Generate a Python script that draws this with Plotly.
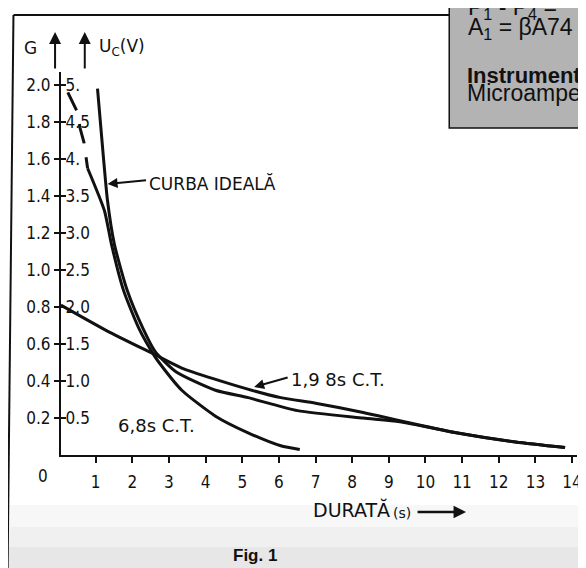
import plotly.graph_objects as go

# ---------------- data ----------------
x_tick_vals = [1, 2, 3, 4, 5, 6, 7, 8, 9, 10, 11, 12, 13, 14]
x_tick_text = ["1", "2", "3", "4", "5", "6", "7", "8", "9", "10", "11", "12", "13", "14"]

g_tick_vals = [0.2, 0.4, 0.6, 0.8, 1.0, 1.2, 1.4, 1.6, 1.8, 2.0]
g_tick_text = ["0.2", "0.4", "0.6", "0.8", "1.0", "1.2", "1.4", "1.6", "1.8", "2.0"]

uc_tick_vals = [0.5, 1.0, 1.5, 2.0, 2.5, 3.0, 3.5, 4.0, 4.5, 5.0]
uc_tick_text = ["0.5", "1.0", "1.5", "2.0", "2.5", "3.0", "3.5", "4.", "4.5", "5."]

# ideal curve (G vs duration, s)
ideal_x = [1.05, 1.22, 1.32, 1.51, 1.86, 2.30, 2.62, 3.19, 4.27, 5.16, 6.51, 8.30, 9.30, 10.84, 12.46, 13.81]
ideal_g = [1.98, 1.59, 1.38, 1.14, 0.89, 0.68, 0.56, 0.45, 0.35, 0.31, 0.24, 0.20, 0.18, 0.12, 0.07, 0.04]

# 6,8 s time constant curve (dashed start, then solid)
ct68_dash_x = [0.24, 0.51, 0.57, 0.68, 0.78]
ct68_dash_g = [1.96, 1.85, 1.77, 1.69, 1.55]
ct68_x = [0.78, 1.24, 1.43, 1.76, 2.19, 2.59, 2.73, 3.35, 4.27, 5.16, 6.05, 6.57]
ct68_g = [1.55, 1.32, 1.14, 0.89, 0.68, 0.54, 0.50, 0.35, 0.21, 0.12, 0.05, 0.03]

# 1,98 s time constant curve
ct198_x = [0.05, 1.32, 2.54, 3.35, 5.08, 6.05, 7.00, 8.30, 9.30, 10.84, 12.46, 13.81]
ct198_g = [0.81, 0.67, 0.55, 0.47, 0.36, 0.31, 0.28, 0.23, 0.185, 0.12, 0.07, 0.04]

# ---------------- layout geometry ----------------
OFF = 8                      # page body margin of the html page
W, H = 586 - OFF, 568 - OFF  # figure size
ML, MR, MT, MB = 53, 4, 64, 113
PW, PH = W - ML - MR, H - MT - MB
X0 = 0.054
XSCALE = 37.0
YSCALE = 185.0
x_range = [X0, X0 + PW / XSCALE]
g_range = [0, PH / YSCALE]


def px(p):  # reference-picture pixel -> paper x
    return (p - OFF - ML) / PW


def py(p):  # reference-picture pixel -> paper y
    return (H - MB - (p - OFF)) / PH


INK = "#111111"
LAB = "DejaVu Sans, sans-serif"
TICKF = "DejaVu Sans Condensed, DejaVu Sans, sans-serif"
BOX = "Liberation Sans, Arial, sans-serif"

fig = go.Figure()

line_style = dict(color=INK, width=3, shape="spline", smoothing=0.6)
fig.add_trace(go.Scatter(x=ideal_x, y=ideal_g, mode="lines", line=line_style,
                         name="Curba ideală", cliponaxis=False))
fig.add_trace(go.Scatter(x=ct68_x, y=ct68_g, mode="lines", line=line_style,
                         name="6,8s C.T.", cliponaxis=False))
fig.add_trace(go.Scatter(x=ct68_dash_x, y=ct68_dash_g, mode="lines",
                         line=dict(color=INK, width=3, dash="20px,14px"),
                         name="6,8s C.T. (start)", cliponaxis=False))
fig.add_trace(go.Scatter(x=ct198_x, y=ct198_g, mode="lines", line=line_style,
                         name="1,98s C.T.", cliponaxis=False))
# invisible trace for the Uc axis
fig.add_trace(go.Scatter(x=[None], y=[None], yaxis="y2", showlegend=False))

shapes = []
# bottom stippled gray band
for (y0, y1, c) in [(505, 527, "#f7f7f7"), (527, 547, "#f0f0f0"), (547, 575, "#e7e7e7")]:
    shapes.append(dict(type="rect", xref="paper", yref="paper", x0=px(-5), x1=px(600),
                       y0=py(y1), y1=py(y0), fillcolor=c, line=dict(width=0), layer="below"))
# frame
shapes.append(dict(type="line", xref="paper", yref="paper", x0=px(13), y0=py(15), x1=px(453), y1=py(15),
                   line=dict(color=INK, width=2)))
shapes.append(dict(type="line", xref="paper", yref="paper", x0=px(13), y0=py(15), x1=px(7), y1=py(575),
                   line=dict(color=INK, width=2)))
# gray info box
shapes.append(dict(type="rect", xref="paper", yref="paper", x0=px(453), x1=px(600),
                   y0=py(128), y1=py(-10), fillcolor="#b3b3b3", line=dict(color=INK, width=1.5)))

ann = []


def txt(t, x, y, size=16, anchor="left", family=LAB):
    ann.append(dict(text=t, x=px(x), y=py(y), xref="paper", yref="paper", showarrow=False,
                    xanchor=anchor, yanchor="middle", font=dict(family=family, size=size, color=INK)))


def arrow(tx, ty, ax, ay, width=2, head=2, size=1.1):
    ann.append(dict(text="", x=px(tx), y=py(ty), xref="paper", yref="paper", showarrow=True,
                    ax=ax, ay=ay, arrowhead=head, arrowsize=size, arrowwidth=width, arrowcolor=INK))


txt("G", 30, 48, 17, "center")
txt("U<sub>C</sub>(V)", 97, 47, 17)
arrow(55, 32, 0, 38, 2, 2, 1.2)
arrow(85, 32, 0, 38, 2, 2, 1.2)
txt("0", 43, 476, 17, "center", TICKF)
txt("CURBA IDEALĂ", 148, 183, 17)
arrow(108, 184, 40, -4, 2, 2, 1.0)
txt("1,9 8s C.T.", 291, 379, 18)
arrow(256, 387, 35, -10, 2, 2, 1.0)
txt("6,8s C.T.", 117, 425, 18)
txt("DURATĂ", 313, 509, 19)
txt("(s)", 394, 513, 14)
arrow(470, 512, -50, 0, 2.5, 2, 1.0)
txt("<b>Fig. 1</b>", 257, 555, 17, "center", BOX)

txt("P<sub>1</sub> - P<sub>4</sub> = ", 470, 9, 23, family=BOX)
txt("A<sub>1</sub> = βA74", 470, 28, 23, family=BOX)
txt("<b>Instrument</b>", 469, 75, 22, family=BOX)
txt("Microampe", 469, 93, 23, family=BOX)

fig.update_layout(
    width=W, height=H,
    margin=dict(l=ML, r=MR, t=MT, b=MB, pad=0),
    paper_bgcolor="white", plot_bgcolor="rgba(0,0,0,0)",
    showlegend=False,
    shapes=shapes, annotations=ann,
    xaxis=dict(range=x_range, showgrid=False, zeroline=False, showline=True, linecolor=INK, linewidth=2,
               ticks="outside", ticklen=6, tickwidth=1.5, tickcolor=INK,
               tickvals=x_tick_vals, ticktext=x_tick_text, ticklabelstandoff=5,
               ticklabeloverflow="allow",
               tickfont=dict(family=TICKF, size=17, color=INK)),
    yaxis=dict(range=g_range, showgrid=False, zeroline=False, showline=True, linecolor=INK, linewidth=2,
               ticks="outside", ticklen=5, tickwidth=1.5, tickcolor=INK,
               tickvals=g_tick_vals, ticktext=g_tick_text,
               tickfont=dict(family=TICKF, size=17, color=INK)),
    yaxis2=dict(range=[g_range[0] * 2.5, g_range[1] * 2.5], overlaying="y", side="left", anchor="x",
                showgrid=False, zeroline=False, showline=False,
                ticks="inside", ticklen=5, tickwidth=1.5, tickcolor=INK,
                ticklabelposition="inside", tickvals=uc_tick_vals, ticktext=uc_tick_text,
                tickfont=dict(family=TICKF, size=17, color=INK)),
)

fig.write_html("out.html")
